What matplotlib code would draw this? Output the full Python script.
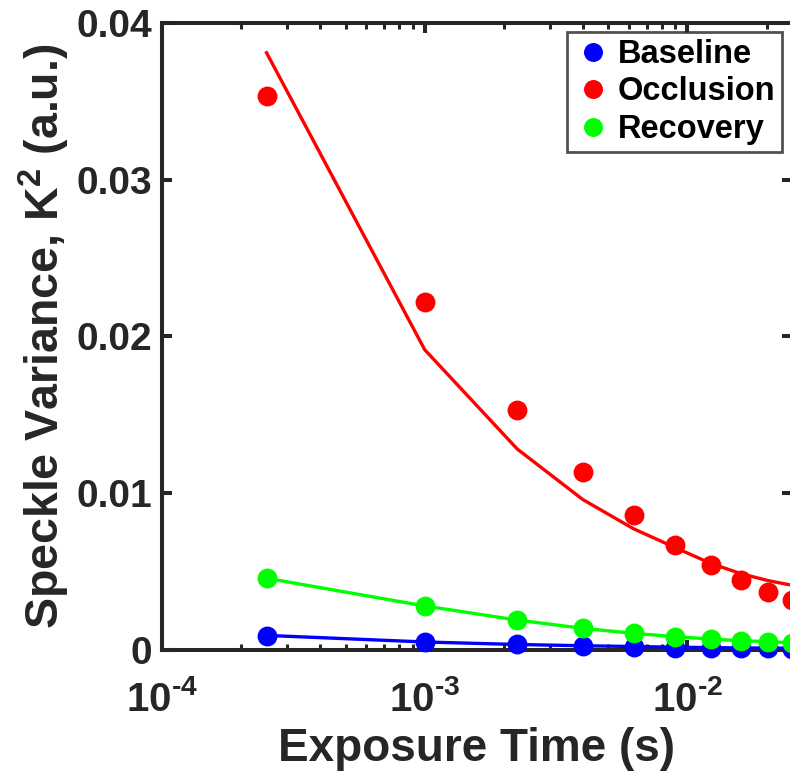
import matplotlib
matplotlib.use("Agg")
import matplotlib.pyplot as plt

plt.rcParams['font.family'] = ['Liberation Sans', 'DejaVu Sans']
plt.rcParams['font.weight'] = 'bold'
plt.rcParams['mathtext.fontset'] = 'custom'
plt.rcParams['mathtext.rm'] = 'Liberation Sans:bold'
plt.rcParams['mathtext.bf'] = 'Liberation Sans:bold'
plt.rcParams['mathtext.it'] = 'Liberation Sans:bold:italic'
plt.rcParams['mathtext.default'] = 'bf'

# ---- data (exposure time in seconds) ----
exposure = [0.00025, 0.001, 0.00225, 0.004, 0.00625, 0.009, 0.01225, 0.016, 0.02025, 0.025]

baseline_pts = [0.00088, 0.00050, 0.00033, 0.00022, 0.00018, 0.00012, 0.00010, 0.00008, 0.00007, 0.00006]
occlusion_pts = [0.03537, 0.02216, 0.01530, 0.01133, 0.00856, 0.00668, 0.00540, 0.00444, 0.00369, 0.00316]
recovery_pts = [0.00455, 0.00278, 0.00188, 0.00135, 0.00103, 0.00082, 0.00067, 0.00056, 0.00050, 0.00043]

baseline_fit = [0.00090, 0.00048, 0.00032, 0.00024, 0.00019, 0.00015, 0.00012, 0.00010, 0.00009, 0.00008]
occlusion_fit = [0.03810, 0.01914, 0.01280, 0.00957, 0.00770, 0.00650, 0.00550, 0.00484, 0.00440, 0.00410]
recovery_fit = [0.00455, 0.00278, 0.00188, 0.00135, 0.00103, 0.00082, 0.00067, 0.00056, 0.00050, 0.00043]

series_names = ['Baseline', 'Occlusion', 'Recovery']
series_colors = ['#0000ff', '#ff0000', '#00ff00']

xticks = [1e-4, 1e-3, 1e-2]
xtick_labels = ['$10^{\u20104}$', '$10^{\u20103}$', '$10^{\u20102}$']
yticks = [0, 0.01, 0.02, 0.03, 0.04]
ytick_labels = ['0', '0.01', '0.02', '0.03', '0.04']

dark = '#262626'

fig = plt.figure(figsize=(7.9, 7.75), dpi=100)
ax = fig.add_axes([162/790, 125.5/775, (792-162)/790, (649.5-23)/775])

pts = [baseline_pts, occlusion_pts, recovery_pts]
fits = [baseline_fit, occlusion_fit, recovery_fit]
for name, col, p in zip(series_names, series_colors, pts):
    ax.plot(exposure, p, linestyle='none', marker='o', markersize=13.3,
            markerfacecolor=col, markeredgecolor=col, label=name,
            clip_on=False, zorder=5)
for col, f in zip(series_colors, fits):
    ax.plot(exposure, f, color=col, linewidth=2.4, clip_on=False, zorder=4)

ax.set_xscale('log')
ax.set_xlim(1e-4, 0.025)
ax.set_ylim(0, 0.04)
ax.set_xticks(xticks)
ax.set_xticklabels(xtick_labels)
ax.set_yticks(yticks)
ax.set_yticklabels(ytick_labels)

for s in ax.spines.values():
    s.set_linewidth(2.9)
    s.set_color(dark)
    s.set_zorder(3)

ax.tick_params(which='both', direction='in', top=True, right=True, color=dark,
               labelcolor=dark)
ax.tick_params(which='major', length=7, width=2.9, labelsize=28)
ax.tick_params(which='minor', length=4, width=2.2)
ax.tick_params(axis='x', which='major', labelsize=29, pad=22)
ax.tick_params(axis='y', which='major', pad=7)

ax.set_xlabel('Exposure Time (s)', fontsize=33, fontweight='bold', color=dark, labelpad=6)
ax.set_ylabel(r'Speckle Variance, K$^{2}$ (a.u.)', fontsize=33.5, fontweight='bold',
              color=dark, labelpad=3)

leg = ax.legend(loc='upper right', bbox_to_anchor=(0.984, 0.985), borderaxespad=0,
                fontsize=23.5, frameon=True, fancybox=False, handletextpad=0.15,
                borderpad=0.2, labelspacing=0.2, handlelength=1.2, markerscale=0.95)
leg.get_frame().set_edgecolor(dark)
leg.get_frame().set_linewidth(2.0)
leg.set_zorder(10)
for t in leg.get_texts():
    t.set_fontweight('bold')
    t.set_color('black')

fig.savefig('out.png', dpi=100)
